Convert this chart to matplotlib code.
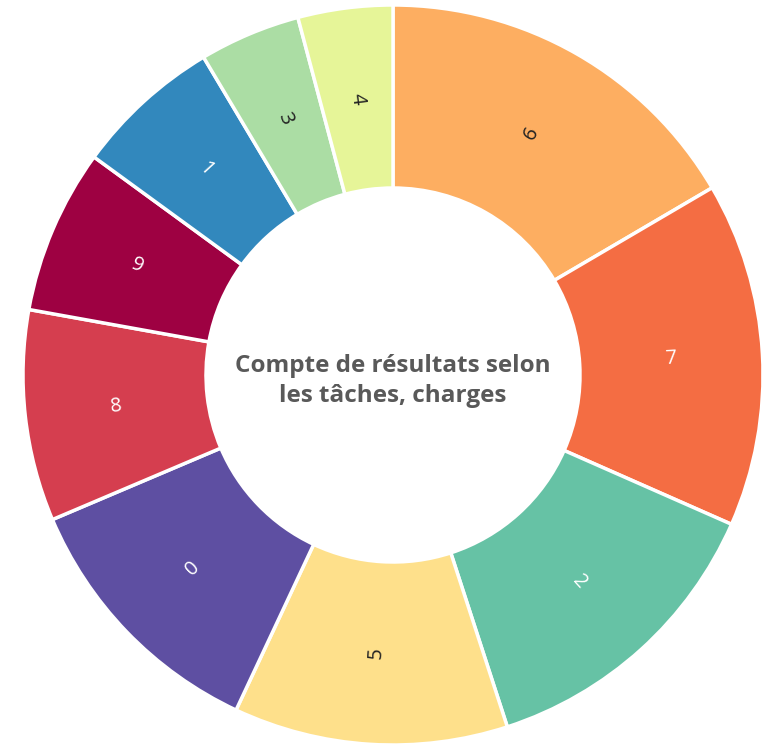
import numpy as np
import matplotlib
matplotlib.use("Agg")
import matplotlib.pyplot as plt

# categories in drawing order (clockwise from 12 o'clock)
categories = ["6", "7", "2", "5", "0", "8", "9", "1", "3", "4"]
charges = [59.6, 54.2, 48.2, 43.1, 41.9, 33.2, 25.9, 23.1, 15.9, 14.9]
colors = ["#fdae61", "#f46d43", "#66c2a5", "#fee08b", "#5e4fa2",
          "#d53e4f", "#9e0142", "#3288bd", "#abdda4", "#e6f598"]
label_colors = ["#222222", "white", "white", "#222222", "white",
                "white", "white", "white", "#222222", "#222222"]
title = "Compte de résultats selon\nles tâches, charges"

R_OUT = 370
R_IN = 187

fig = plt.figure(figsize=(7.62, 7.47), dpi=100)
ax = fig.add_axes([0, 0, 1, 1])

wedges, _ = ax.pie(charges, colors=colors, radius=R_OUT, startangle=90,
                   counterclock=False,
                   wedgeprops=dict(width=R_OUT - R_IN, edgecolor="white",
                                   linewidth=2.5))

r_lab = (R_OUT + R_IN) / 2
for w, lab, col in zip(wedges, categories, label_colors):
    ang = (w.theta1 + w.theta2) / 2
    x = r_lab * np.cos(np.radians(ang))
    y = r_lab * np.sin(np.radians(ang))
    rot = ((ang + 180) % 360) - 180
    if rot > 90:
        rot -= 180
    elif rot < -90:
        rot += 180
    ax.text(x, y, lab, rotation=rot, rotation_mode="anchor",
            ha="center", va="center", fontsize=14.5, color=col,
            family="Open Sans")

ax.text(0, -6, title, ha="center", va="center", fontsize=17.5,
        fontweight="bold", color="#595959", family="Open Sans",
        linespacing=1.3)

ax.set_xlim(-393, 762 - 393)
ax.set_ylim(-(747 - 375), 375)
ax.set_aspect("equal")
ax.axis("off")

fig.savefig("out.png", dpi=100)
